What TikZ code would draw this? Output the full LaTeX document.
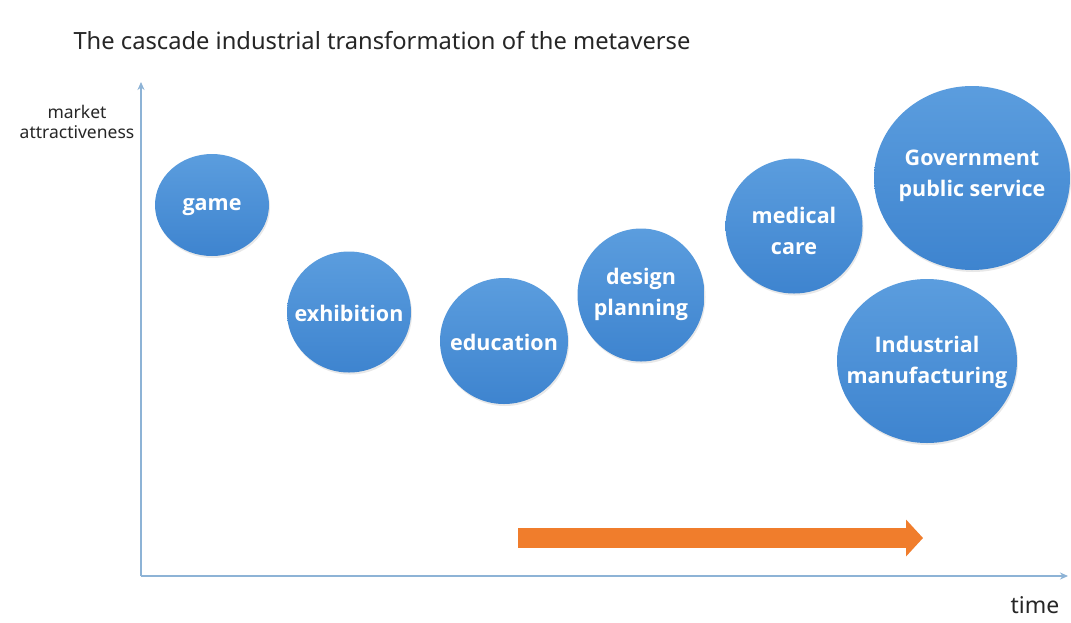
\documentclass[tikz,border=0pt]{standalone}
\usepackage{fontspec}
\setmainfont{Noto Sans}
\newfontfamily\bubblefont{Open Sans}
\usetikzlibrary{shapes.geometric,arrows.meta,shadows}
\definecolor{axisblue}{HTML}{8DB3D6}
\definecolor{bubbletop}{HTML}{5B9DDE}
\definecolor{bubblebot}{HTML}{3E84CF}
\definecolor{arroworange}{HTML}{F07D2C}
\definecolor{titlegray}{HTML}{262626}
\tikzset{
  bubble/.style={ellipse, inner sep=0pt, draw=none,
    top color=bubbletop, bottom color=bubblebot,
    drop shadow={opacity=0.18, shadow xshift=1pt, shadow yshift=-2pt}},
  bubbletext/.style={text=white, align=center, inner sep=0pt,
    font=\bubblefont\bfseries\fontsize{21.5}{31}\selectfont},
  axisline/.style={draw=axisblue, line width=1.6pt, -{Stealth[length=8pt,width=7pt]}},
  trend/.style={draw=arroworange, line width=20pt,
    -{Triangle[length=17pt,width=36pt]}},
}
\begin{document}
\begin{tikzpicture}[x=1pt,y=1pt]
\useasboundingbox (0,0) rectangle (1071,-622);
\fill[white] (0,0) rectangle (1071,-622);

% title
\node[anchor=west, text=titlegray, font=\fontsize{23.7}{28}\selectfont] (title) at (70,-41)
  {The cascade industrial transformation of the metaverse};

% axes
\coordinate (origin) at (141,-576);
\coordinate (ytop) at (141,-82);
\coordinate (xend) at (1068,-576);
\draw[axisline] (origin) -- (ytop);
\draw[axisline] (origin) -- (xend);
\node[align=center, text=titlegray, font=\fontsize{17.5}{20}\selectfont] (ylab) at (77,-122)
  {market\\attractiveness};
\node[text=titlegray, font=\fontsize{23}{26}\selectfont] (xlab) at (1035,-605) {time};

% industry bubbles
\node[bubble, minimum width=114pt, minimum height=102pt] (game) at (212,-205) {};
\node[bubble, minimum width=124pt, minimum height=121pt] (exhibition) at (349,-312) {};
\node[bubble, minimum width=128pt, minimum height=126pt] (education) at (504,-341) {};
\node[bubble, minimum width=127pt, minimum height=133pt] (design) at (641,-295) {};
\node[bubble, minimum width=137pt, minimum height=135pt] (medical) at (794,-226) {};
\node[bubble, minimum width=196pt, minimum height=184pt] (gov) at (972,-178) {};
\node[bubble, minimum width=180pt, minimum height=164pt] (industrial) at (927,-361) {};

% bubble captions
\node[bubbletext] (gametxt) at ([yshift=-2pt]game.center) {game};
\node[bubbletext] (exhibitiontxt) at ([yshift=-1pt]exhibition.center) {exhibition};
\node[bubbletext] (educationtxt) at ([yshift=-1pt]education.center) {education};
\node[bubbletext] (designtxt) at ([yshift=1pt]design.center) {design\\planning};
\node[bubbletext] (medicaltxt) at ([yshift=-5pt]medical.center) {medical\\care};
\node[bubbletext] (govtxt) at ([yshift=2pt]gov.center) {Government\\public service};
\node[bubbletext] (industrialtxt) at ([yshift=-1pt]industrial.center) {Industrial\\manufacturing};

% direction of the cascade
\coordinate (trendstart) at (518,-538);
\coordinate (trendend) at (923,-538);
\draw[trend] (trendstart) -- (trendend);
\end{tikzpicture}
\end{document}
